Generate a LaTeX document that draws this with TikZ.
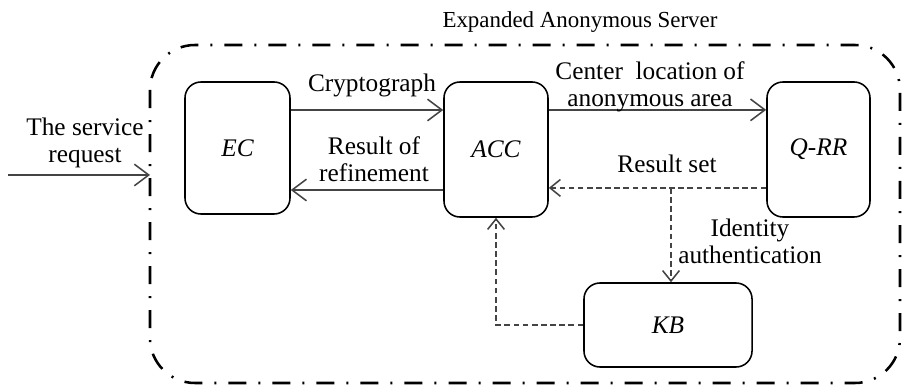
\documentclass[tikz,border=0pt]{standalone}
\usepackage{fontspec}
\setmainfont{Liberation Serif}
\usepackage{xcolor}
\usetikzlibrary{positioning,calc,arrows.meta}

\definecolor{linegray}{HTML}{444444}

\tikzset{
    unitbox/.style={draw, rounded corners=0.4cm, line width=1.1pt, inner sep=0pt,
        font=\fontsize{18}{19}\selectfont\itshape},
    lbl/.style={font=\fontsize{18}{19.2}\selectfont, inner sep=0pt, align=center},
    flowarrow/.style={draw=linegray, line width=0.9pt,
        -{Straight Barb[length=3.6mm,width=5.4mm,line width=1.1pt]}},
    dasharrow/.style={draw=linegray, line width=1.3pt, dash pattern=on 4pt off 2.5pt,
        -{Straight Barb[length=2.6mm,width=4.2mm,line width=1.1pt]}},
    serverline/.style={line width=1.8pt, rounded corners=1.125cm,
        dash pattern=on 0.45cm off 0.3cm on 0.05cm off 0.3cm}
}

\begin{document}
\begin{tikzpicture}[x=0.025cm, y=-0.025cm]
    \useasboundingbox (0,0) rectangle (902,385);

    % server border and title
    \draw[serverline] (150,45) rectangle (900,383);
    \node[font=\fontsize{16.3}{18}\selectfont, inner sep=0pt, anchor=base] (title) at (580,28) {Expanded Anonymous Server};

    % units
    \node[unitbox, minimum width=2.625cm, minimum height=3.3cm] (ec) at (237.5,148) {EC};
    \node[unitbox, minimum width=2.6cm, minimum height=3.375cm] (acc) at (496,149.5) {ACC};
    \node[unitbox, minimum width=2.575cm, minimum height=3.375cm] (qrr) at (818.5,149.5) {Q-RR};
    \node[unitbox, minimum width=4.2cm, minimum height=2.1cm] (kb) at (668,325) {KB};

    % incoming request
    \coordinate (reqin) at (8,175);
    \coordinate (reqend) at (150,175);
    \draw[flowarrow] (reqin) -- (reqend);
    \node[lbl, anchor=base] (reqlbl) at (85,163) {The service\\request};

    % EC <-> ACC
    \draw[flowarrow] ([yshift=0.95cm]ec.east) -- ([yshift=0.95cm]ec.east -| acc.west);
    \node[lbl, anchor=base] (cryptolbl) at (372,92) {Cryptograph};
    \draw[flowarrow, line width=1.8pt] ([yshift=-1.0125cm]acc.west) -- ([yshift=-1.0125cm]acc.west -| ec.east);
    \node[lbl, anchor=base] (refinelbl) at (374,182) {Result of\\refinement};

    % ACC <-> Q-RR
    \draw[flowarrow] ([yshift=0.99cm]acc.east) -- ([yshift=0.99cm]acc.east -| qrr.west);
    \node[lbl, anchor=base] (centerlbl) at (650,107) {Center\ \ location of\\anonymous area};
    \draw[dasharrow] ([yshift=-0.96cm]qrr.west) -- ([yshift=-0.96cm]qrr.west -| acc.east);
    \node[lbl, anchor=base] (resultlbl) at (667,173) {Result set};

    % identity check and KB feedback
    \coordinate (split) at (671,188);
    \draw[dasharrow] (split) -- (split |- kb.north);
    \node[lbl, anchor=base] (identlbl) at (750,264) {Identity\\authentication};
    \draw[dasharrow] (kb.west) -| (acc.south);
\end{tikzpicture}
\end{document}
